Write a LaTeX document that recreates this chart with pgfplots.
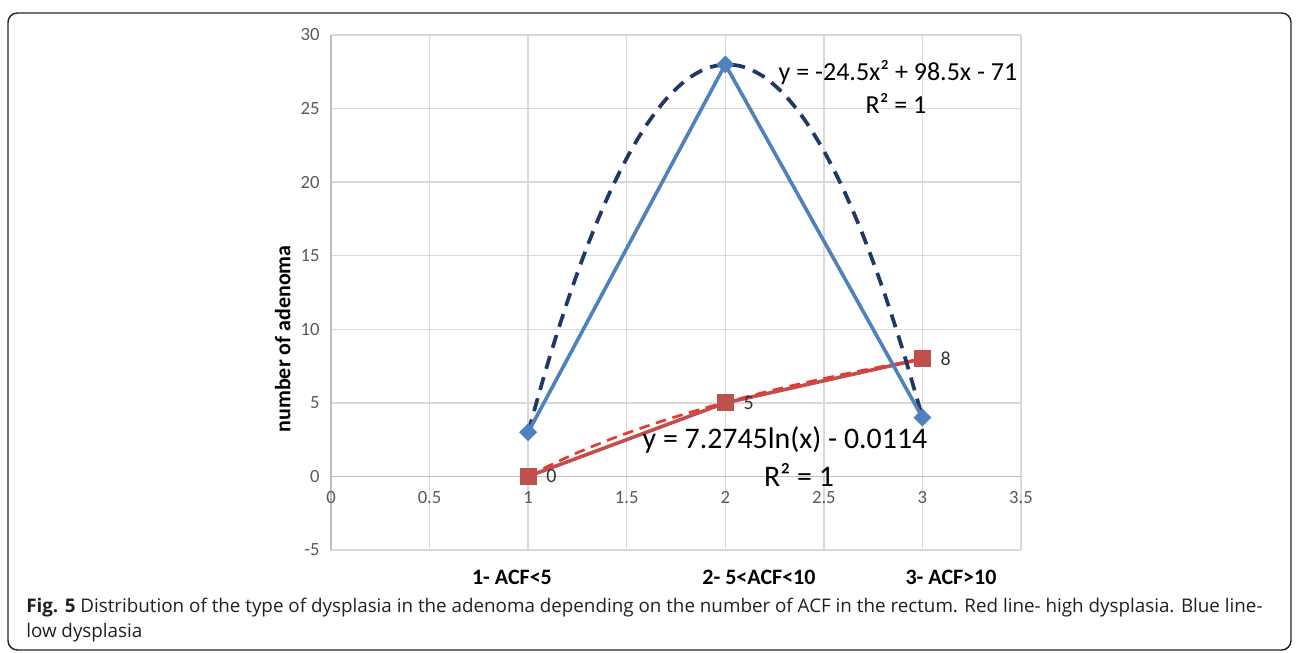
\documentclass[border=0pt]{standalone}
\usepackage{pgfplots}
\pgfplotsset{compat=1.18}
\usepackage{fontspec}
\setmainfont{Carlito}
\newfontfamily\capfont{Open Sans}
\definecolor{sblue}{HTML}{4F81BD}
\definecolor{sred}{HTML}{C0504D}
\definecolor{tblue}{HTML}{1F3864}
\definecolor{tred}{HTML}{E8392F}
\definecolor{gridc}{HTML}{D9D9D9}
\definecolor{axc}{HTML}{BFBFBF}
\definecolor{tickc}{HTML}{595959}
\definecolor{capc}{HTML}{231F20}
\begin{document}
\begin{tikzpicture}[x=0.75pt,y=0.75pt]
\useasboundingbox (0,0) rectangle (1296,653);
\draw[line width=1.1pt, rounded corners=7pt, color=black!85] (8,3) rectangle (1291,640);
\begin{axis}[
  at={(248.25pt,77.25pt)}, anchor=south west,
  scale only axis, width=517.5pt, height=386.25pt,
  xmin=0, xmax=3.5, ymin=-5, ymax=30,
  xtick={0,0.5,1,1.5,2,2.5,3,3.5},
  ytick={-5,0,5,10,15,20,25,30},
  axis x line=middle, axis y line=left,
  hide obscured x ticks=false, hide obscured y ticks=false,
  axis line style={-, draw=axc, line width=1pt},
  grid=major, grid style={draw=gridc, line width=1pt},
  major tick length=0pt,
  tick label style={font=\fontsize{14}{16}\selectfont, color=tickc},
  /pgf/number format/assume math mode=true,
  xticklabel style={anchor=north, yshift=-8pt},
  yticklabel style={anchor=east, xshift=-5pt},
  ylabel={\bfseries number of adenoma},
  ylabel style={at={(axis description cs:-0.07,0.41)}, anchor=center, font=\fontsize{16.5}{18}\selectfont},
  clip=false,
]
\addplot[color=sred, line width=2.7pt, mark=square*, mark size=5pt, mark options={fill=sred, draw=none},
  nodes near coords, nodes near coords style={anchor=west, xshift=9pt, yshift=0pt, font=\fontsize{15}{17}\selectfont, color=black!80}]
  coordinates {(1,0) (2,5) (3,8)};
\addplot[color=tred, line width=2pt, dash pattern=on 8pt off 5pt, smooth, forget plot] coordinates {
 (1.0,-0.0114) (1.1,0.6819) (1.2,1.3149) (1.3,1.8971) (1.4,2.4362) (1.5,2.9382)
 (1.6,3.4076) (1.7,3.8486) (1.8,4.2644) (1.9,4.6577) (2.0,5.0309) (2.2,5.7242)
 (2.4,6.3571) (2.6,6.9394) (2.8,7.4785) (3.0,7.9804)};
\addplot[color=tblue, line width=2.8pt, dash pattern=on 10pt off 6.5pt, smooth, forget plot] coordinates {
 (1.0,3) (1.1,7.705) (1.2,11.92) (1.3,15.645) (1.4,18.88) (1.5,21.625) (1.6,23.88)
 (1.7,25.645) (1.8,26.92) (1.9,27.705) (2.0,28) (2.1,27.805) (2.2,27.12) (2.3,25.945)
 (2.4,24.28) (2.5,22.125) (2.6,19.48) (2.7,16.345) (2.8,12.72) (2.9,8.605) (3.0,4)};
\addplot[color=sblue, line width=2.7pt, mark=square*, mark size=3.4pt, mark options={fill=sblue, draw=none, rotate=45}]
  coordinates {(1,3) (2,28) (3,4)};
\node[font=\fontsize{19.5}{22}\selectfont, anchor=center] at (axis cs:2.876,27.45) {y = -24.5x² + 98.5x - 71};
\node[font=\fontsize{19.5}{22}\selectfont, anchor=center] at (axis cs:2.866,25.35) {R² = 1};
\node[font=\fontsize{22.4}{25}\selectfont, anchor=center] at (axis cs:2.303,2.45) {y = 7.2745ln(x) - 0.0114};
\node[font=\fontsize{22.4}{25}\selectfont, anchor=center] at (axis cs:2.374,0.1) {R² = 1};
\node[font=\bfseries\fontsize{16.5}{18}\selectfont, anchor=center] at (axis cs:0.918,-6.85) {1- ACF<5};
\node[font=\bfseries\fontsize{16.5}{18}\selectfont, anchor=center] at (axis cs:2.171,-6.85) {2- 5<ACF<10};
\node[font=\bfseries\fontsize{16.5}{18}\selectfont, anchor=center] at (axis cs:3.145,-6.85) {3- ACF>10};
\end{axis}
\node[anchor=base west, inner sep=0pt, color=capc, font=\capfont\fontsize{14.1}{16}\selectfont] at (26,40) {\textbf{Fig. 5} Distribution of the type of dysplasia in the adenoma depending on the number of ACF in the rectum. Red line- high dysplasia. Blue line-};
\node[anchor=base west, inner sep=0pt, color=capc, font=\capfont\fontsize{14.1}{16}\selectfont] at (26,15) {low dysplasia};
\end{tikzpicture}
\end{document}
